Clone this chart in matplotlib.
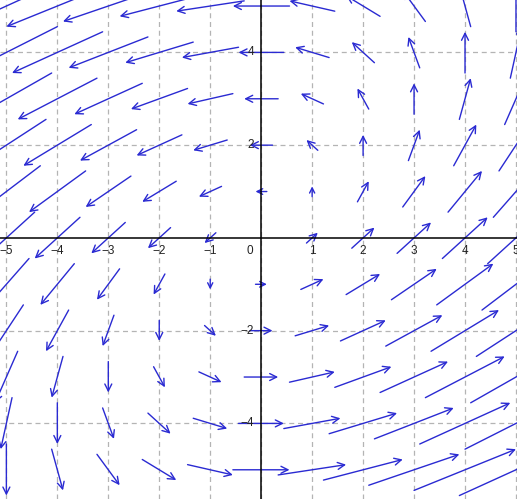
import matplotlib
matplotlib.use('Agg')
import matplotlib.pyplot as plt
import numpy as np

# grid of sample points
xs = [-5, -4, -3, -2, -1, 0, 1, 2, 3, 4, 5]
ys = [-5, -4, -3, -2, -1, 0, 1, 2, 3, 4, 5]

# vector components, one row per y value (bottom to top)
U = [
    [0, 1, 2, 3, 4, 5, 6, 7, 8, 9, 10],
    [-1, 0, 1, 2, 3, 4, 5, 6, 7, 8, 9],
    [-2, -1, 0, 1, 2, 3, 4, 5, 6, 7, 8],
    [-3, -2, -1, 0, 1, 2, 3, 4, 5, 6, 7],
    [-4, -3, -2, -1, 0, 1, 2, 3, 4, 5, 6],
    [-5, -4, -3, -2, -1, 0, 1, 2, 3, 4, 5],
    [-6, -5, -4, -3, -2, -1, 0, 1, 2, 3, 4],
    [-7, -6, -5, -4, -3, -2, -1, 0, 1, 2, 3],
    [-8, -7, -6, -5, -4, -3, -2, -1, 0, 1, 2],
    [-9, -8, -7, -6, -5, -4, -3, -2, -1, 0, 1],
    [-10, -9, -8, -7, -6, -5, -4, -3, -2, -1, 0],
]
V = [
    [-5, -4, -3, -2, -1, 0, 1, 2, 3, 4, 5],
    [-5, -4, -3, -2, -1, 0, 1, 2, 3, 4, 5],
    [-5, -4, -3, -2, -1, 0, 1, 2, 3, 4, 5],
    [-5, -4, -3, -2, -1, 0, 1, 2, 3, 4, 5],
    [-5, -4, -3, -2, -1, 0, 1, 2, 3, 4, 5],
    [-5, -4, -3, -2, -1, 0, 1, 2, 3, 4, 5],
    [-5, -4, -3, -2, -1, 0, 1, 2, 3, 4, 5],
    [-5, -4, -3, -2, -1, 0, 1, 2, 3, 4, 5],
    [-5, -4, -3, -2, -1, 0, 1, 2, 3, 4, 5],
    [-5, -4, -3, -2, -1, 0, 1, 2, 3, 4, 5],
    [-5, -4, -3, -2, -1, 0, 1, 2, 3, 4, 5],
]

xtick_vals = [-5, -4, -3, -2, -1, 0, 1, 2, 3, 4, 5]
ytick_vals = [-4, -2, 2, 4]

arrow_color = '#2a2ad2'
scale = 4.5  # data units of field per data unit of arrow

fig = plt.figure(figsize=(5.17, 4.99), dpi=100)
ax = fig.add_axes([0, 0, 1, 1])
ax.set_xlim(-5.125, 5.02)
ax.set_ylim(-5.63, 5.13)

for s in ax.spines.values():
    s.set_visible(False)
ax.set_xticks(xtick_vals)
ax.set_yticks(ytick_vals)
ax.tick_params(length=0, labelbottom=False, labelleft=False)
ax.grid(True, color='#b4b4b4', linestyle=(0, (4, 3)), linewidth=0.9, zorder=0)
ax.set_axisbelow(True)

ax.axhline(0, color='black', lw=1.1, zorder=4)
ax.axvline(0, color='black', lw=1.1, zorder=4)

# pixels per data unit, for sizing the heads
px_x = fig.bbox.width / (ax.get_xlim()[1] - ax.get_xlim()[0])
px_y = fig.bbox.height / (ax.get_ylim()[1] - ax.get_ylim()[0])

for j, y in enumerate(ys):
    for i, x in enumerate(xs):
        u, v = U[j][i], V[j][i]
        if u == 0 and v == 0:
            continue
        dx, dy = u / scale / 2, v / scale / 2
        length_px = 2 * np.hypot(dx * px_x, dy * px_y)
        ms = 10 * min(1.0, length_px / 14)
        ax.annotate('', xy=(x + dx, y + dy), xytext=(x - dx, y - dy),
                    annotation_clip=False,
                    arrowprops=dict(arrowstyle='->,head_length=0.5,head_width=0.25',
                                    color=arrow_color, lw=1.0, shrinkA=0, shrinkB=0,
                                    mutation_scale=ms),
                    zorder=3)

label_font = dict(family=['Liberation Sans', 'DejaVu Sans'], fontsize=8.5, color='#222222')
for t in xtick_vals:
    txt = str(t).replace('-', '\u2212')
    xoff = -8.4 if t == 0 else 0
    ax.annotate(txt, xy=(t, 0), xytext=(xoff, -9.4), textcoords='offset points',
                ha='center', va='center', zorder=5, annotation_clip=False, **label_font)
for t in ytick_vals:
    txt = str(t).replace('-', '\u2212')
    ax.annotate(txt, xy=(0, t), xytext=(-5, 0), textcoords='offset points',
                ha='right', va='center', zorder=5, **label_font)

fig.savefig('out.png', dpi=100)
